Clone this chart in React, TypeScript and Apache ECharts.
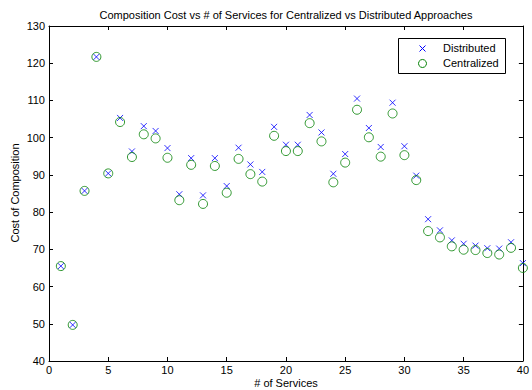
import React, { useEffect, useRef } from "react";
import * as echarts from "echarts";

const services = Array.from({ length: 40 }, (_, i) => i + 1);
const distributed = [
  65.5, 49.7, 85.7, 121.7, 90.4, 105.3, 96.3, 103.1, 101.8, 97.2,
  84.8, 94.5, 84.5, 94.5, 87.0, 97.3, 92.8, 90.8, 102.9, 98.1,
  98.1, 106.1, 101.4, 90.3, 95.6, 110.5, 102.6, 97.5, 109.4, 97.7,
  89.8, 78.1, 75.1, 72.4, 71.5, 71.0, 70.3, 70.2, 71.9, 66.3,
];
const centralized = [
  65.5, 49.7, 85.7, 121.7, 90.4, 104.2, 94.8, 100.9, 99.8, 94.6,
  83.2, 92.7, 82.2, 92.4, 85.2, 94.3, 90.2, 88.2, 100.5, 96.4,
  96.4, 103.9, 99.0, 88.0, 93.3, 107.5, 100.1, 94.9, 106.5, 95.3,
  88.6, 74.9, 73.2, 70.8, 69.9, 69.8, 69.0, 68.6, 70.4, 65.0,
];
const titleText = "Composition Cost vs # of Services for Centralized vs Distributed Approaches";
const xName = "# of Services";
const yName = "Cost of Composition";
const legendNames = ["Distributed", "Centralized"];

const FONT = "Liberation Sans, Arial, sans-serif";
const BLUE = "#0000ff";
const GREEN = "#008000";

export default function App() {
  const ref = useRef<HTMLDivElement>(null);
  useEffect(() => {
    if (!ref.current) return;
    const chart = echarts.init(ref.current, null, { renderer: "svg" });
    const axisCommon = {
      type: "value" as const,
      axisLine: { show: true, onZero: false, lineStyle: { color: "#000", width: 1 } },
      axisTick: { show: true, inside: true, length: 4, lineStyle: { color: "#000" } },
      splitLine: { show: false },
    };
    chart.setOption({
      animation: false,
      backgroundColor: "#fff",
      grid: { left: 49, right: 8, top: 26, bottom: 29, containLabel: false },
      xAxis: [
        {
          ...axisCommon,
          min: 0,
          max: 40,
          interval: 5,
          position: "bottom",
          axisLabel: { color: "#000", fontFamily: FONT, fontSize: 11, margin: 3 },
        },
        {
          ...axisCommon,
          min: 0,
          max: 40,
          interval: 5,
          position: "top",
          axisLabel: { show: false },
        },
      ],
      yAxis: [
        {
          ...axisCommon,
          min: 40,
          max: 130,
          interval: 10,
          position: "left",
          axisLabel: { color: "#000", fontFamily: FONT, fontSize: 11, margin: 4 },
        },
        {
          ...axisCommon,
          min: 40,
          max: 130,
          interval: 10,
          position: "right",
          axisLabel: { show: false },
        },
      ],
      series: [
        {
          name: legendNames[0],
          type: "scatter",
          data: services.map((s, i) => [s, distributed[i]]),
          symbol: "path://M0,0L10,10M10,0L0,10",
          symbolSize: 6,
          itemStyle: { color: "transparent", borderColor: BLUE, borderWidth: 1 },
          z: 2,
        },
        {
          name: legendNames[1],
          type: "scatter",
          data: services.map((s, i) => [s, centralized[i]]),
          symbol: "circle",
          symbolSize: 9,
          itemStyle: { color: "transparent", borderColor: GREEN, borderWidth: 1 },
          z: 3,
        },
      ],
      graphic: [
        {
          type: "text",
          x: 286,
          y: 15,
          style: {
            text: titleText,
            fill: "#000",
            font: `11px ${FONT}`,
            align: "center",
            verticalAlign: "middle",
          },
        },
        {
          type: "text",
          x: 286,
          y: 383,
          style: {
            text: xName,
            fill: "#000",
            font: `11px ${FONT}`,
            align: "center",
            verticalAlign: "middle",
          },
        },
        {
          type: "text",
          x: 15,
          y: 193,
          rotation: Math.PI / 2,
          style: {
            text: yName,
            fill: "#000",
            font: `11px ${FONT}`,
            align: "center",
            verticalAlign: "middle",
          },
        },
        {
          type: "group",
          children: [
            {
              type: "rect",
              shape: { x: 398.5, y: 38.5, width: 107, height: 35 },
              style: { fill: "#fff", stroke: "#000", lineWidth: 1 },
              z: 10,
            },
            {
              type: "line",
              shape: { x1: 419.5, y1: 45.5, x2: 425.5, y2: 51.5 },
              style: { stroke: BLUE, lineWidth: 1 },
              z: 11,
            },
            {
              type: "line",
              shape: { x1: 419.5, y1: 51.5, x2: 425.5, y2: 45.5 },
              style: { stroke: BLUE, lineWidth: 1 },
              z: 11,
            },
            {
              type: "circle",
              shape: { cx: 422.5, cy: 63.5, r: 4 },
              style: { fill: "none", stroke: GREEN, lineWidth: 1 },
              z: 11,
            },
            {
              type: "text",
              x: 443,
              y: 48,
              style: {
                text: legendNames[0],
                fill: "#000",
                font: `11px ${FONT}`,
                align: "left",
                verticalAlign: "middle",
              },
              z: 11,
            },
            {
              type: "text",
              x: 443,
              y: 63,
              style: {
                text: legendNames[1],
                fill: "#000",
                font: `11px ${FONT}`,
                align: "left",
                verticalAlign: "middle",
              },
              z: 11,
            },
          ],
        },
      ],
    });
    return () => chart.dispose();
  }, []);
  return <div ref={ref} style={{ width: 532, height: 390, position: "absolute", left: 0, top: 0 }} />;
}
